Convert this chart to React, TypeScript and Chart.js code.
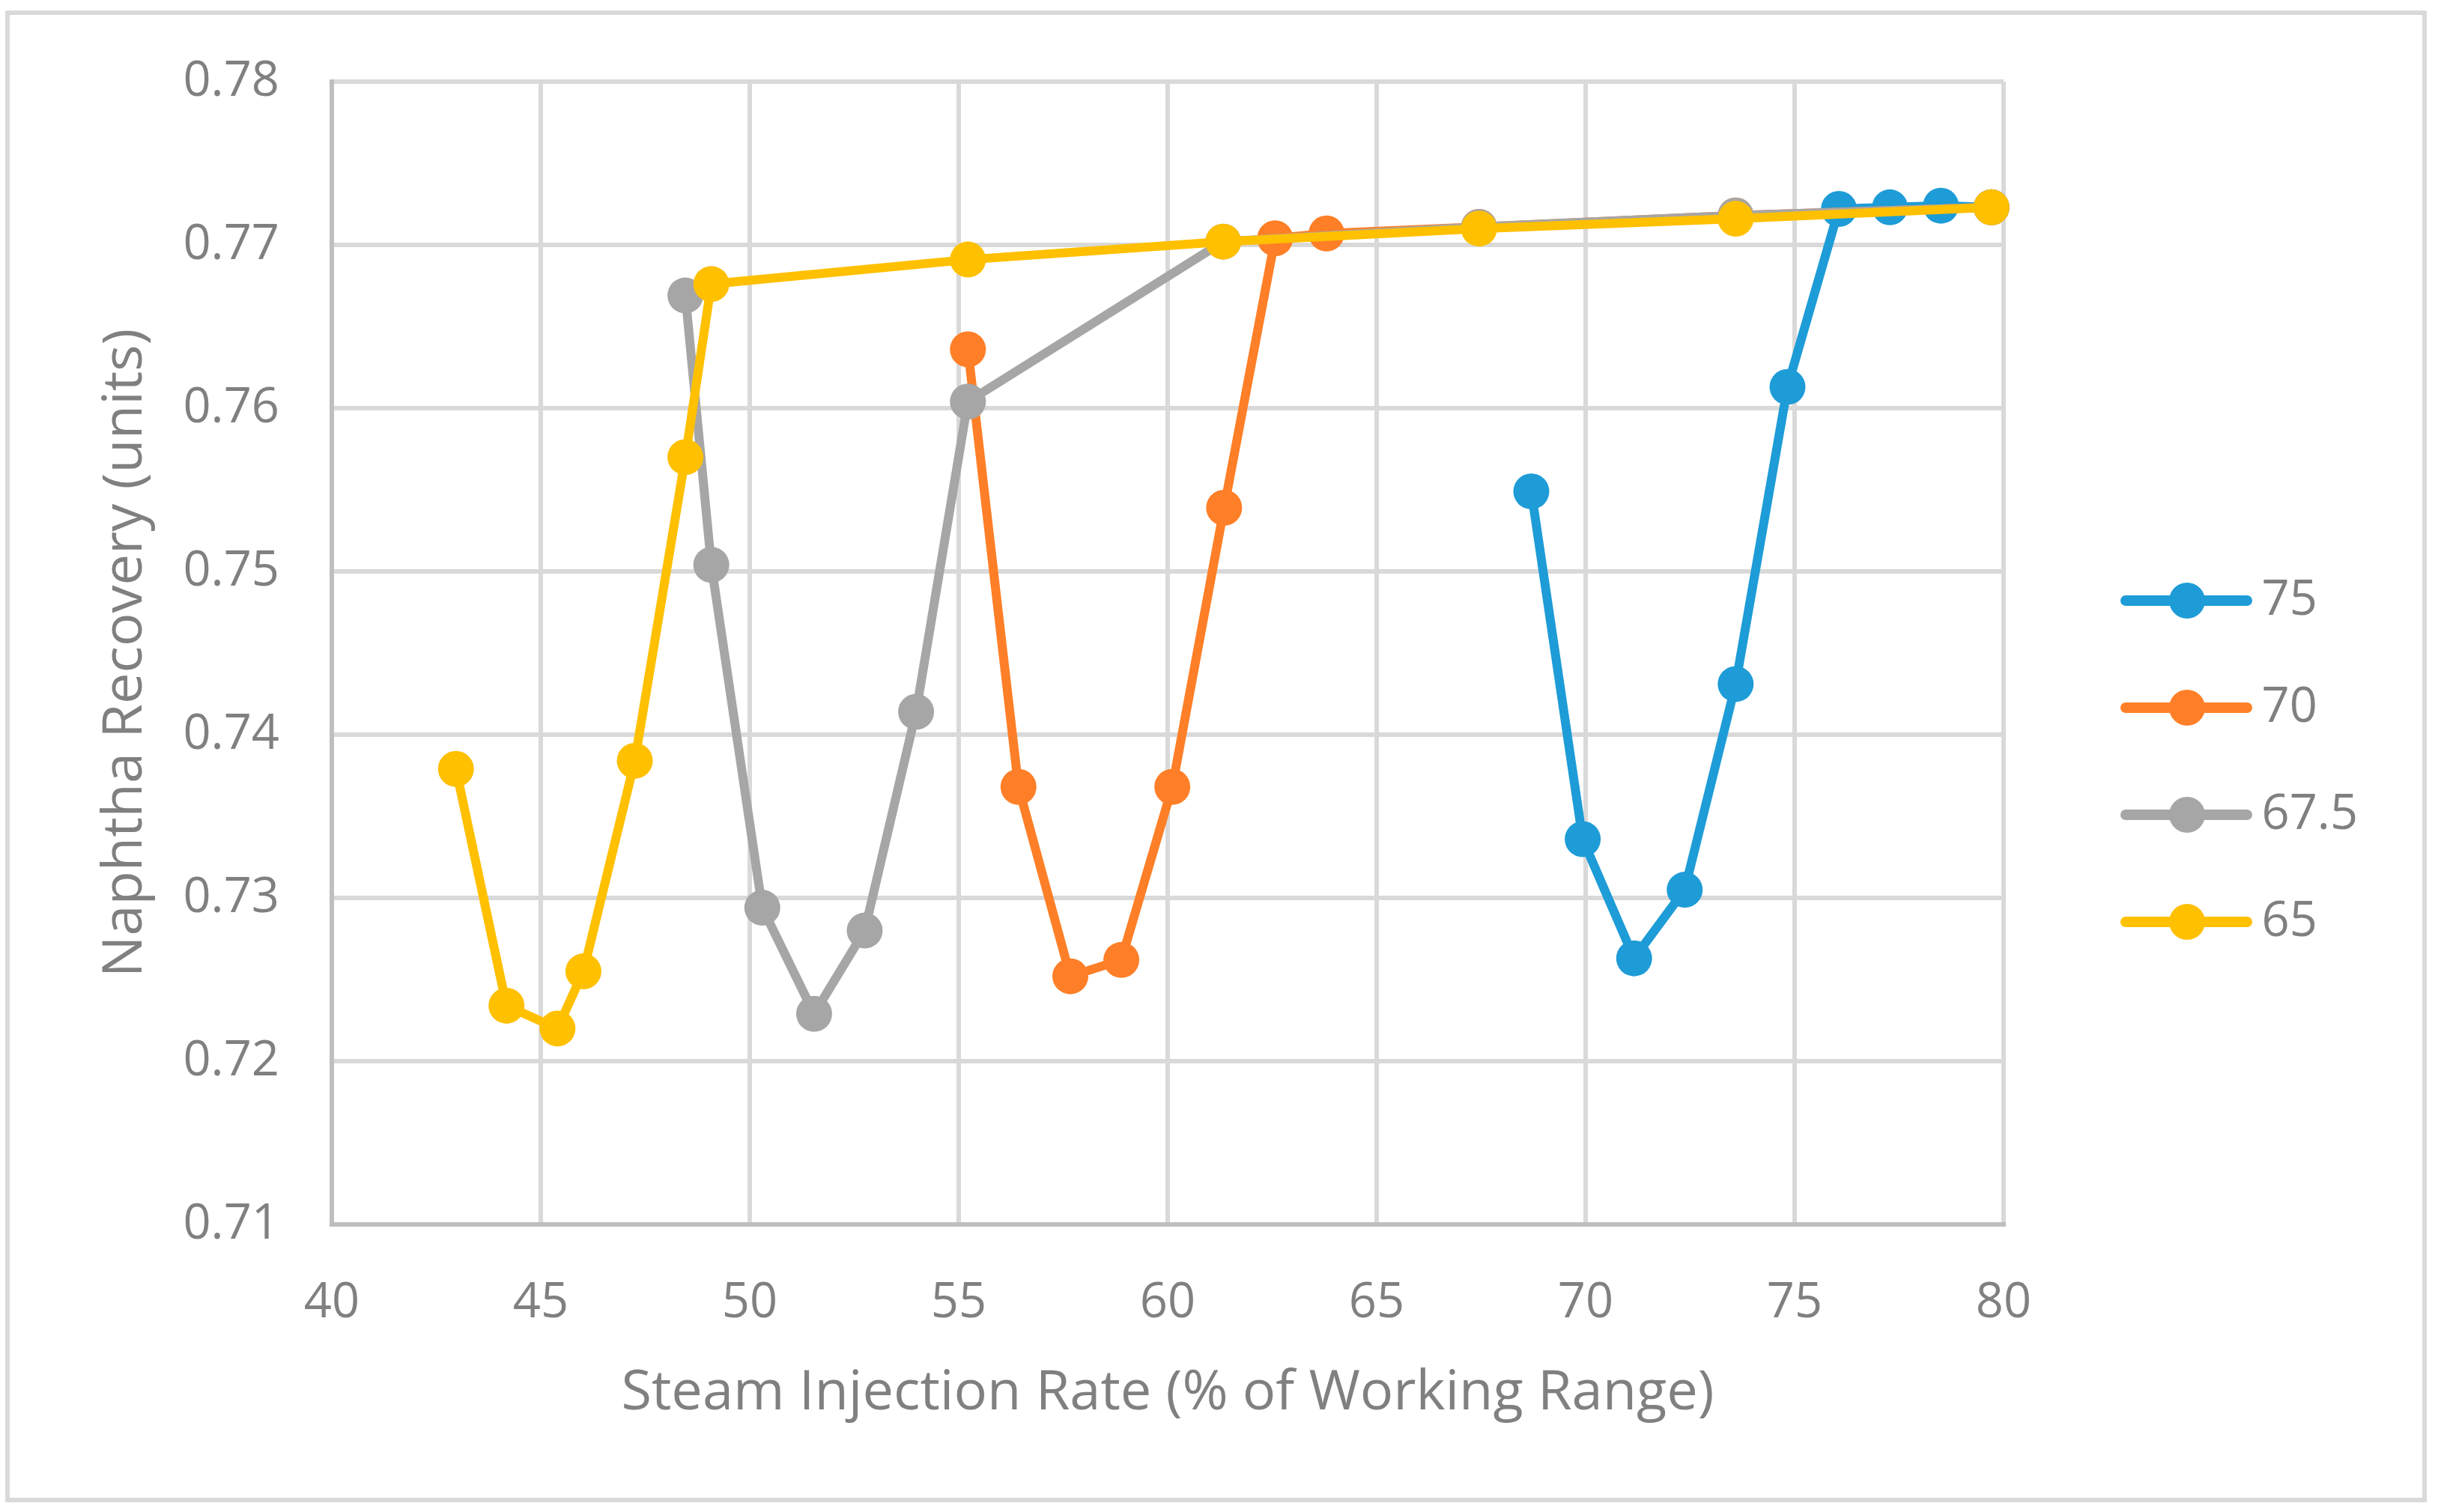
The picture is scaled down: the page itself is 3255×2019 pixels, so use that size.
import React, { useEffect, useRef } from "react";
import { Chart, registerables } from "chart.js";

Chart.register(...registerables);

// ---- data ----
const seriesNames = ["75", "70", "67.5", "65"];

const x75 = [68.7, 69.93, 71.16, 72.37, 73.59, 74.83, 76.06, 77.28, 78.5, 79.71];
const y75 = [0.7549, 0.7336, 0.7263, 0.7305, 0.7431, 0.7613, 0.7722, 0.7723, 0.7724, 0.7723];

const x70 = [55.22, 56.43, 57.67, 58.89, 60.11, 61.35, 62.57, 63.8, 67.45, 73.59, 79.71];
const y70 = [0.7636, 0.7368, 0.7252, 0.7262, 0.7368, 0.7539, 0.7704, 0.7707, 0.7711, 0.7718, 0.7723];

const x675 = [48.46, 49.08, 50.3, 51.54, 52.75, 53.98, 55.22, 61.33, 67.45, 73.59, 79.71];
const y675 = [0.7669, 0.7504, 0.7294, 0.7229, 0.728, 0.7414, 0.7604, 0.7702, 0.7711, 0.7718, 0.7723];

const x65 = [42.97, 44.18, 45.4, 46.02, 47.25, 48.46, 49.08, 55.22, 61.33, 67.45, 73.59, 79.71];
const y65 = [0.7379, 0.7234, 0.722, 0.7255, 0.7384, 0.757, 0.7676, 0.7691, 0.7702, 0.771, 0.7716, 0.7723];

const xTicksMin = 40;
const xTicksMax = 80;
const xStep = 5;
const yTicksMin = 0.71;
const yTicksMax = 0.78;
const yStep = 0.01;

const xTitle = "Steam Injection Rate (% of Working Range)";
const yTitle = "Naphtha Recovery (units)";

// ---- styles ----
const COLORS: Record<string, string> = {
  "75": "#1E9CD7",
  "70": "#FE7F27",
  "67.5": "#A6A6A6",
  "65": "#FFC000",
};
const W = 3255;
const H = 2019;
const TEXT = "#808080";
const FONT = "'Open Sans', 'Noto Sans', sans-serif";
const LEGEND_W = 580;

function toPoints(xs: number[], ys: number[]) {
  return xs.map((x, i) => ({ x, y: ys[i] }));
}

function makeLegendIcon(color: string): HTMLCanvasElement {
  const c = document.createElement("canvas");
  c.width = 280;
  c.height = 52;
  const g = c.getContext("2d")!;
  g.strokeStyle = color;
  g.lineWidth = 14;
  g.lineCap = "round";
  g.beginPath();
  g.moveTo(108, 26);
  g.lineTo(270, 26);
  g.stroke();
  g.fillStyle = color;
  g.beginPath();
  g.arc(190, 26, 24, 0, Math.PI * 2);
  g.fill();
  return c;
}

const framePlugin = {
  id: "frame",
  beforeDraw(chart: any) {
    const ctx = chart.ctx;
    ctx.save();
    ctx.fillStyle = "#ffffff";
    ctx.fillRect(0, 0, chart.width, chart.height);
    ctx.strokeStyle = "#d9d9d9";
    ctx.lineWidth = 6;
    ctx.strokeRect(10, 17, 3227, 1986);
    ctx.restore();
  },
};

const legendWidthPlugin = {
  id: "legendWidth",
  beforeLayout(chart: any) {
    const lg = chart.legend;
    if (lg && !lg.__patched) {
      const orig = lg.fit;
      lg.fit = function () {
        orig.call(this);
        this.width = LEGEND_W;
      };
      lg.__patched = true;
    }
  },
};

export default function App() {
  const ref = useRef<HTMLCanvasElement | null>(null);

  useEffect(() => {
    document.body.style.margin = "0";
    const canvas = ref.current!;
    const icons: Record<string, HTMLCanvasElement> = {};
    seriesNames.forEach((n) => (icons[n] = makeLegendIcon(COLORS[n])));

    const all: Record<string, { x: number; y: number }[]> = {
      "75": toPoints(x75, y75),
      "70": toPoints(x70, y70),
      "67.5": toPoints(x675, y675),
      "65": toPoints(x65, y65),
    };
    // draw order: first dataset ends on top -> reverse of legend order
    const drawOrder = [...seriesNames].reverse();
    const datasets = drawOrder.map((n) => ({
      label: n,
      data: all[n],
      borderColor: COLORS[n],
      backgroundColor: COLORS[n],
      pointBackgroundColor: COLORS[n],
      pointBorderColor: COLORS[n],
      pointBorderWidth: 0,
      pointRadius: 24,
      pointHoverRadius: 24,
      borderWidth: 12,
      borderJoinStyle: "round" as const,
      borderCapStyle: "round" as const,
      tension: 0,
      fill: false,
      clip: false as const,
    }));

    const chart = new Chart(canvas, {
      type: "line",
      data: { datasets },
      plugins: [framePlugin, legendWidthPlugin],
      options: {
        animation: false,
        responsive: false,
        devicePixelRatio: 1,
        layout: { padding: { left: 0, top: 109, right: 0, bottom: 95 } },
        plugins: {
          tooltip: { enabled: false },
          legend: {
            position: "right",
            reverse: true,
            labels: {
              usePointStyle: true,
              pointStyleWidth: 234,
              padding: 78,
              color: TEXT,
              font: { family: FONT, size: 65 },
              generateLabels: (ch: any) => {
                const items = Chart.defaults.plugins.legend.labels.generateLabels(ch);
                return items.map((it: any) => ({ ...it, pointStyle: icons[it.text] }));
              },
            },
          },
        },
        scales: {
          x: {
            type: "linear",
            min: xTicksMin,
            max: xTicksMax,
            afterFit: (s: any) => {
              s.height = 289;
            },
            ticks: {
              stepSize: xStep,
              color: TEXT,
              padding: 66,
              font: { family: FONT, size: 65 },
            },
            grid: { color: "#d9d9d9", lineWidth: 6, drawTicks: false },
            border: { color: "#bfbfbf", width: 6 },
            title: {
              display: true,
              text: xTitle,
              color: TEXT,
              font: { family: FONT, size: 74 },
              padding: { top: 0, bottom: 19 },
            },
          },
          y: {
            type: "linear",
            min: yTicksMin,
            max: yTicksMax,
            afterFit: (s: any) => {
              s.width = 443;
            },
            ticks: {
              stepSize: yStep,
              color: TEXT,
              padding: 70,
              font: { family: FONT, size: 65 },
              callback: (v: any) => Number(v).toFixed(2),
            },
            grid: { color: "#d9d9d9", lineWidth: 6, drawTicks: false },
            border: { color: "#bfbfbf", width: 6 },
            title: {
              display: true,
              text: yTitle,
              color: TEXT,
              font: { family: FONT, size: 74 },
              padding: { top: 124, bottom: 0 },
            },
          },
        },
      },
    });
    return () => chart.destroy();
  }, []);

  return (
    <div style={{ position: "absolute", left: 0, top: 0, width: W, height: H }}>
      <canvas ref={ref} width={W} height={H} style={{ width: W, height: H, display: "block" }} />
    </div>
  );
}
